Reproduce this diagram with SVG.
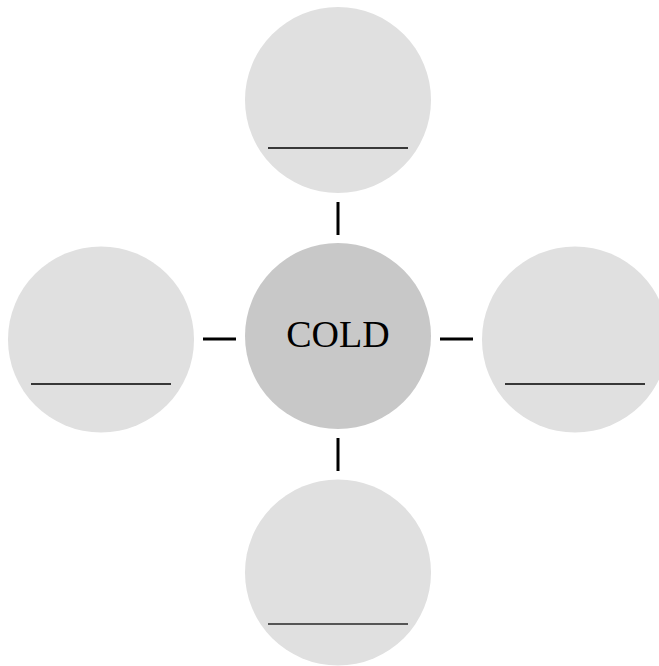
<svg xmlns="http://www.w3.org/2000/svg" width="659" height="666" viewBox="0 0 659 666">
<style>
.outer{fill:#e0e0e0}
.center{fill:#c8c8c8}
.blank{stroke:#000;stroke-width:1.3}
.conn{stroke:#000;stroke-width:3}
.label{font-family:"Liberation Serif","Times New Roman",serif;font-size:38px;fill:#000;text-anchor:middle}
</style>
<rect width="659" height="666" fill="#fff"/>
<g id="connectors">
<line class="conn" x1="338" y1="202" x2="338" y2="235"/>
<line class="conn" x1="338" y1="438" x2="338" y2="471"/>
<line class="conn" x1="203" y1="339" x2="236" y2="339"/>
<line class="conn" x1="440" y1="339" x2="473" y2="339"/>
</g>
<g id="node-top">
<circle class="outer" cx="338" cy="100" r="93"/>
<line class="blank" x1="268" y1="148" x2="408" y2="148"/>
</g>
<g id="node-left">
<circle class="outer" cx="101" cy="339.5" r="93"/>
<line class="blank" x1="31" y1="384" x2="171" y2="384"/>
</g>
<g id="node-right">
<circle class="outer" cx="575" cy="339.5" r="93"/>
<line class="blank" x1="505" y1="384" x2="645" y2="384"/>
</g>
<g id="node-bottom">
<circle class="outer" cx="338" cy="572.5" r="93"/>
<line x1="268" y1="624" x2="408" y2="624" stroke="#555" stroke-width="1.8"/>
</g>
<g id="node-center">
<circle class="center" cx="338" cy="336" r="93"/>
<text class="label" x="338" y="347">COLD</text>
</g>
</svg>
